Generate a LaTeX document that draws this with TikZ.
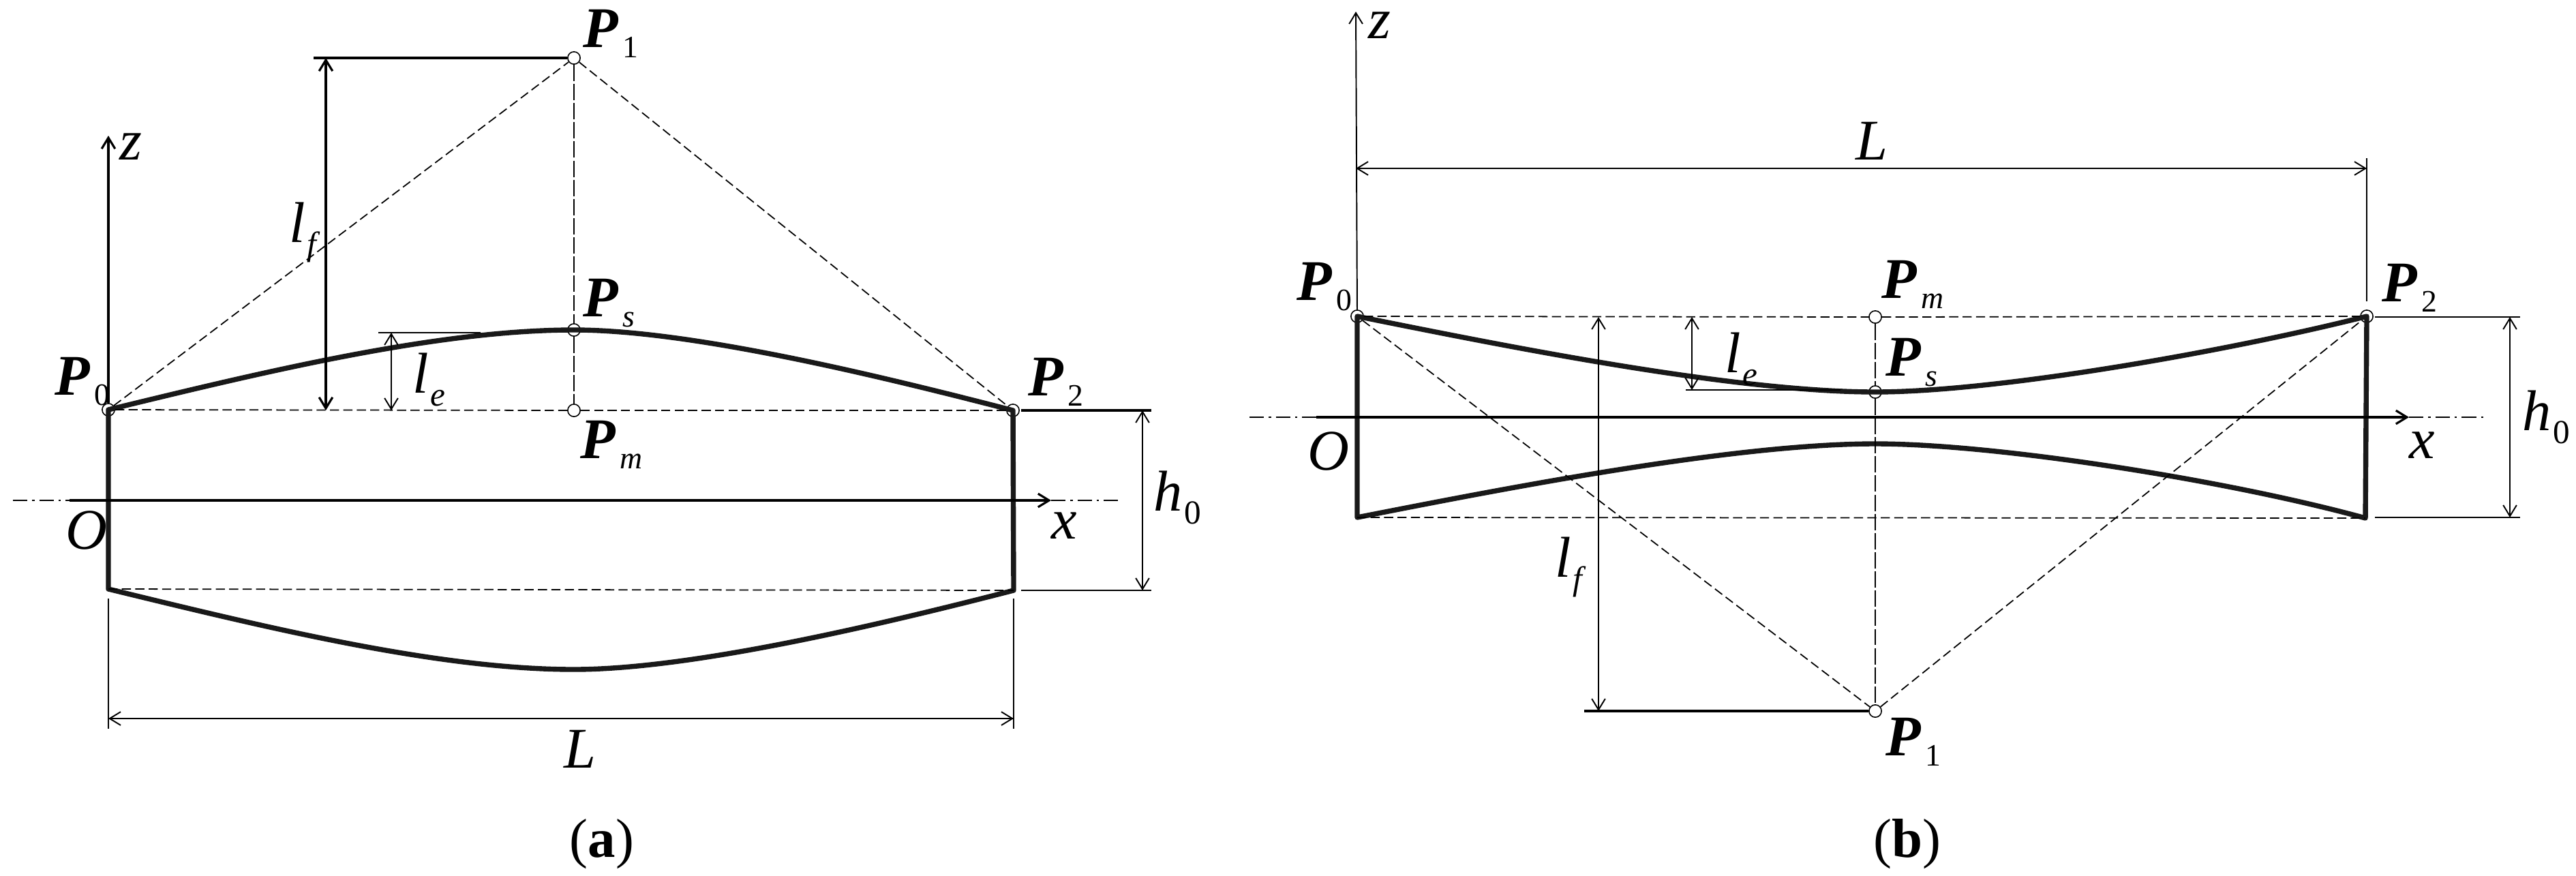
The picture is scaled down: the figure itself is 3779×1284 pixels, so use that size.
\documentclass[tikz,border=0pt]{standalone}
\usepackage{fontspec}
\setmainfont{Liberation Serif}
\usetikzlibrary{arrows.meta}
\newcommand{\plabel}[1]{\smash{{\fontsize{24}{24}\selectfont\bfseries\itshape P}\kern1.8pt\raisebox{-4.5pt}{\fontsize{13}{13}\selectfont #1}}}
\newcommand{\vlabel}[2]{{\fontsize{24}{24}\selectfont\itshape #1}\kern0.6pt\raisebox{-5.5pt}{\fontsize{14}{14}\selectfont #2}}
\newcommand{\alabel}[1]{{\fontsize{24}{24}\selectfont\itshape #1}}
\tikzset{
   pnt/.style={draw,circle,inner sep=0pt,minimum size=5.2pt,line width=0.45pt},
   lab/.style={anchor=base west,inner sep=0pt},
   captext/.style={anchor=base,inner sep=0pt,font=\fontsize{23}{23}\selectfont},
   outline/.style={line width=2.1pt,line join=round,color=black!90},
   axisline/.style={line width=0.9pt},
   thinline/.style={line width=0.55pt},
   guide/.style={line width=0.5pt,dash pattern=on 3.8pt off 1.8pt},
   centre/.style={line width=0.5pt,dash pattern=on 6.8pt off 1.2pt},
   chain/.style={line width=0.5pt,dash pattern=on 6pt off 2pt on 1pt off 2pt}
}
\begin{document}
\begin{tikzpicture}[x=0.01cm,y=-0.01cm,>={Straight Barb[length=4.6pt,width=5.6pt]}]
   \useasboundingbox (0,0) rectangle (3779,1284);
   % panel a
   \node[pnt] (P0a) at (159,601) {};
   \node[pnt] (P1a) at (842,85) {};
   \node[pnt] (Psa) at (842,484) {};
   \node[pnt] (Pma) at (842,602) {};
   \node[pnt] (P2a) at (1486,602) {};
   \coordinate (Q0a) at (159,864);
   \coordinate (Q2a) at (1487,866);
   \coordinate (Qma) at (842,982);
   \draw[outline] (P0a.center) .. controls (389,545) and (642,484) .. (Psa.center)
      .. controls (1012,484) and (1285,550) .. (P2a.center) -- (Q2a)
      .. controls (1285,918) and (1012,982) .. (Qma)
      .. controls (642,982) and (389,920) .. (Q0a) -- cycle;
   \draw[guide] (P0a) -- (P1a);
   \draw[guide] (P1a) -- (P2a);
   \draw[guide] (P0a) -- (Pma);
   \draw[guide] (Pma) -- (P2a);
   \draw[guide] (Q0a) -- (Q2a);
   \draw[centre] (P1a) -- (Psa);
   \draw[centre] (Psa) -- (Pma);
   \coordinate (zta) at (159,199);
   \coordinate (xla) at (19,734);
   \coordinate (xsa) at (102,734);
   \coordinate (xta) at (1542,734);
   \coordinate (xea) at (1644,734);
   \draw[axisline,->] (P0a) -- (zta);
   \draw[chain] (xla) -- (xsa);
   \draw[axisline,->] (xsa) -- (xta);
   \draw[chain] (xta) -- (xea);
   % dimensions a
   \coordinate (lfta) at (460,85);
   \coordinate (lfha) at (478,85);
   \coordinate (lfba) at (478,602);
   \draw[axisline] (lfta) -- (P1a);
   \draw[axisline,<->] (lfha) -- (lfba);
   \coordinate (leta) at (555,488);
   \coordinate (leea) at (705,488);
   \coordinate (leha) at (574,488);
   \coordinate (leba) at (574,602);
   \draw[thinline] (leta) -- (leea);
   \draw[thinline,<->] (leha) -- (leba);
   \coordinate (h1a) at (1498,602);
   \coordinate (h2a) at (1689,602);
   \coordinate (h3a) at (1498,866);
   \coordinate (h4a) at (1689,866);
   \coordinate (hua) at (1676,602);
   \coordinate (hda) at (1676,866);
   \draw[axisline] (h1a) -- (h2a);
   \draw[thinline] (h3a) -- (h4a);
   \draw[thinline,<->] (hua) -- (hda);
   \coordinate (L1a) at (159,878);
   \coordinate (L2a) at (159,1069);
   \coordinate (L3a) at (1487,878);
   \coordinate (L4a) at (1487,1069);
   \coordinate (Lla) at (159,1054);
   \coordinate (Lra) at (1487,1054);
   \draw[thinline] (L1a) -- (L2a);
   \draw[thinline] (L3a) -- (L4a);
   \draw[thinline,<->] (Lla) -- (Lra);
   % labels a
   \node[lab] (tP1a) at (855,69) {\plabel{1}};
   \node[lab] (tPsa) at (855,464) {\plabel{\textit{s}}};
   \node[lab] (tP0a) at (80,579) {\plabel{0}};
   \node[lab] (tPma) at (851,672) {\plabel{\textit{m}}};
   \node[lab] (tP2a) at (1508,580) {\plabel{2}};
   \node[lab] (tza) at (175,234) {\alabel{z}};
   \node[lab] (txa) at (1542,790) {\alabel{x}};
   \node[lab] (tOa) at (96,805) {\alabel{O}};
   \node[lab] (tLa) at (827,1126) {\alabel{L}};
   \node[lab] (tlfa) at (424,355) {\vlabel{l}{\textit{f}}};
   \node[lab] (tlea) at (605,576) {\vlabel{l}{\textit{e}}};
   \node[lab] (th0a) at (1692,749) {\vlabel{h}{0}};
   \node[captext] (capa) at (883,1257) {(\textbf{a})};
   % panel b
   \node[pnt] (P0b) at (1991,464) {};
   \node[pnt] (P1b) at (2751,1043) {};
   \node[pnt] (Psb) at (2751,575) {};
   \node[pnt] (Pmb) at (2751,465) {};
   \node[pnt] (P2b) at (3472,464) {};
   \coordinate (Q0b) at (1991,759);
   \coordinate (Q2b) at (3470,760);
   \coordinate (Qmb) at (2751,651);
   \draw[outline] (P0b.center) .. controls (2200,506) and (2540,575) .. (Psb.center)
      .. controls (2930,575) and (3270,515) .. (P2b.center) -- (Q2b)
      .. controls (3270,705) and (2930,651) .. (Qmb)
      .. controls (2540,651) and (2200,718) .. (Q0b) -- cycle;
   \draw[guide] (P0b) -- (P1b);
   \draw[guide] (P1b) -- (P2b);
   \draw[guide] (P0b) -- (Pmb);
   \draw[guide] (Pmb) -- (P2b);
   \draw[guide] (Q0b) -- (Q2b);
   \draw[centre] (Pmb) -- (Psb);
   \draw[centre] (Psb) -- (P1b);
   \coordinate (ztb) at (1989,17);
   \coordinate (xlb) at (1833,612);
   \coordinate (xsb) at (1931,612);
   \coordinate (xtb) at (3534,612);
   \coordinate (xeb) at (3647,612);
   \draw[thinline,->] (P0b) -- (ztb);
   \draw[chain] (xlb) -- (xsb);
   \draw[axisline,->] (xsb) -- (xtb);
   \draw[chain] (xtb) -- (xeb);
   % dimensions b
   \coordinate (lftb) at (2324,1043);
   \coordinate (lfhb) at (2345,1043);
   \coordinate (lfub) at (2345,465);
   \draw[axisline] (lftb) -- (P1b);
   \draw[thinline,<->] (lfub) -- (lfhb);
   \coordinate (letb) at (2473,572);
   \coordinate (leeb) at (2700,572);
   \coordinate (lehb) at (2482,572);
   \coordinate (leub) at (2482,465);
   \draw[thinline] (letb) -- (leeb);
   \draw[thinline,<->] (leub) -- (lehb);
   \coordinate (h1b) at (3484,465);
   \coordinate (h2b) at (3697,465);
   \coordinate (h3b) at (3484,759);
   \coordinate (h4b) at (3697,759);
   \coordinate (hub) at (3682,465);
   \coordinate (hdb) at (3682,759);
   \draw[thinline] (h1b) -- (h2b);
   \draw[thinline] (h3b) -- (h4b);
   \draw[thinline,<->] (hub) -- (hdb);
   \coordinate (L3b) at (3472,232);
   \coordinate (L4b) at (3472,442);
   \coordinate (Llb) at (1989,247);
   \coordinate (Lrb) at (3472,247);
   \draw[thinline] (L3b) -- (L4b);
   \draw[thinline,<->] (Llb) -- (Lrb);
   % labels b
   \node[lab] (tP1b) at (2766,1108) {\plabel{1}};
   \node[lab] (tPsb) at (2766,551) {\plabel{\textit{s}}};
   \node[lab] (tP0b) at (1902,440) {\plabel{0}};
   \node[lab] (tPmb) at (2760,437) {\plabel{\textit{m}}};
   \node[lab] (tP2b) at (3494,442) {\plabel{2}};
   \node[lab] (tzb) at (2007,56) {\alabel{z}};
   \node[lab] (txb) at (3534,672) {\alabel{x}};
   \node[lab] (tOb) at (1918,689) {\alabel{O}};
   \node[lab] (tLb) at (2722,234) {\alabel{L}};
   \node[lab] (tlfb) at (2281,846) {\vlabel{l}{\textit{f}}};
   \node[lab] (tleb) at (2530,546) {\vlabel{l}{\textit{e}}};
   \node[lab] (th0b) at (3700,631) {\vlabel{h}{0}};
   \node[captext] (capb) at (2798,1257) {(\textbf{b})};
\end{tikzpicture}
\end{document}
